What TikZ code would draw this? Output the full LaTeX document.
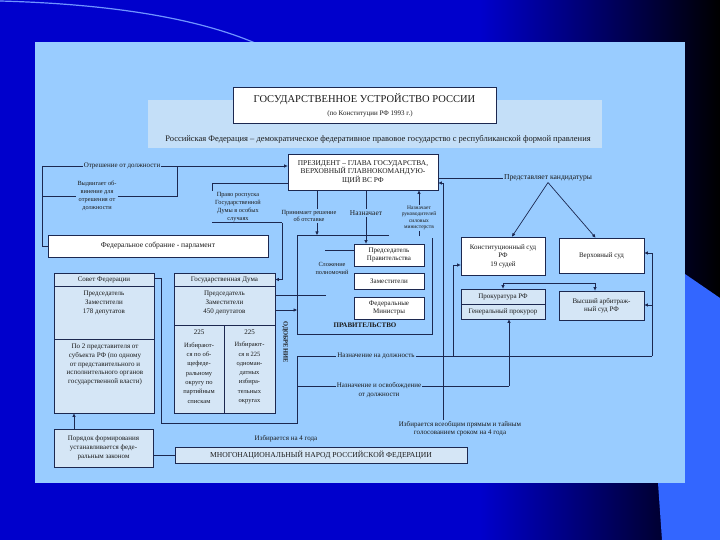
\documentclass[tikz,border=0pt]{standalone}
\usepackage{fontspec}
\setmainfont{Liberation Serif}
\usetikzlibrary{arrows.meta}
\definecolor{panel}{HTML}{99CCFF}
\definecolor{band}{HTML}{C4DFF8}
\definecolor{pale}{HTML}{D5E6F6}
\definecolor{ink}{HTML}{1C2850}
\definecolor{txt}{HTML}{1A1A1A}
\definecolor{bgblue}{HTML}{0000CC}
\definecolor{lightbg}{HTML}{3366FF}
\newcommand\fsz[2]{\fontsize{#1}{#2}\selectfont}
\begin{document}
\begin{tikzpicture}[x=1pt,y=-1pt,
  ln/.style={draw=ink,line width=0.7pt},
  arr/.style={draw=ink,line width=0.7pt,-{Triangle[length=3.5pt,width=3pt]}},
  wbox/.style={draw=ink,line width=0.8pt,fill=white,inner sep=0pt,align=center,text=txt,font=\fsz{7}{8.5}},
  pbox/.style={wbox,fill=pale},
  lbl/.style={inner sep=1pt,align=center,text=txt,font=\fsz{7}{8.5}},
  small/.style={lbl,font=\fsz{6.3}{7.8}}]
\useasboundingbox (0,0) rectangle (720,540);
% background
\fill[bgblue] (0,0) rectangle (720,540);
\shade[left color=bgblue,right color=black] (480,0) rectangle (720,540);
\fill[lightbg] (685,274) -- (720,298) -- (720,540) -- (662,540) -- (658,483) -- (685,483) -- cycle;
\draw[lightbg!70!white,line width=1.2pt] (0,1) .. controls (110,4) and (200,18) .. (262,46);
\fill[panel] (35,42) rectangle (685,483);
\fill[band] (148,100) rectangle (602,148);
% title
\node[wbox,minimum width=263pt,minimum height=36pt] (title) at (364.5,105) {};
\node[lbl,font=\fsz{10.5}{12}] (t1) at (364.5,99) {ГОСУДАРСТВЕННОЕ УСТРОЙСТВО РОССИИ};
\node[lbl] (t2) at (370,113.5) {(по Конституции РФ 1993 г.)};
\node[lbl,font=\fsz{8.5}{10}] (rf) at (378,139) {Российская Федерация – демократическое федеративное правовое государство с республиканской формой правления};
% president
\node[wbox,minimum width=150pt,minimum height=36pt,font=\fsz{7.4}{8.6}] (pres) at (363,172) {ПРЕЗИДЕНТ – ГЛАВА ГОСУДАРСТВА,\\ВЕРХОВНЫЙ ГЛАВНОКОМАНДУЮ-\\ЩИЙ ВС РФ};
% left top
\node[lbl] (otr) at (122,166) {Отрешение от должности};
\node[small] (vyd) at (97,196) {Выдвигает об-\\винение для\\отрешения от\\должности};
\node[small] (rosp) at (238,207) {Право роспуска\\Государственной\\Думы в особых\\случаях};
\node[wbox,minimum width=220pt,minimum height=22pt,font=\fsz{7.6}{9}] (fs) at (158,246) {Федеральное собрание - парламент};
% council
\node[pbox,minimum width=100pt,minimum height=140pt] (sf) at (104,343) {};
\draw[ln] (54,286) -- (154,286) (54,339) -- (154,339);
\node[lbl] (sfh) at (104,279.5) {Совет Федерации};
\node[lbl,font=\fsz{7}{9}] (sfm) at (104,303) {Председатель\\Заместители\\178 депутатов};
\node[lbl,font=\fsz{7}{8.8}] (sfs) at (105,364.5) {По 2 представителя от\\субъекта РФ (по одному\\от представительного и\\исполнительного органов\\государственной власти)};
% duma
\node[pbox,minimum width=101pt,minimum height=140pt] (gd) at (224.5,343) {};
\draw[ln] (174,286) -- (275,286) (174,325) -- (275,325) (224,325) -- (224,413);
\node[lbl] (gdh) at (224.5,279.5) {Государственная Дума};
\node[lbl,font=\fsz{7}{9}] (gdm) at (224.5,303) {Председатель\\Заместители\\450 депутатов};
\node[lbl] (n1) at (199,332) {225};
\node[lbl] (n2) at (249.5,332) {225};
\node[lbl,font=\fsz{6.5}{9.3}] (c1) at (199,373) {Избирают-\\ся по об-\\щефеде-\\ральному\\округу по\\партийным\\спискам};
\node[lbl,font=\fsz{6.5}{9.3}] (c2) at (249.5,373) {Избирают-\\ся в 225\\одноман-\\датных\\избира-\\тельных\\округах};
\node[lbl,font=\bfseries\fsz{6.5}{7},rotate=-90] (odo) at (285,342) {ОДОБРЕНИЕ};
% government
\node[wbox,minimum width=70pt,minimum height=22pt] (pred) at (389,255) {Председатель\\Правительства};
\node[wbox,minimum width=70pt,minimum height=16pt] (zam) at (389,281) {Заместители};
\node[wbox,minimum width=70pt,minimum height=22pt] (mins) at (389,308) {Федеральные\\Министры};
\node[lbl,font=\bfseries\fsz{7}{8}] (prav) at (365,325.5) {ПРАВИТЕЛЬСТВО};
\node[small] (otst) at (309,216) {Принимает решение\\об отставке};
\node[lbl,font=\fsz{7.4}{8.5}] (nazn) at (366,213) {Назначает};
\node[small,font=\fsz{5.5}{6.5}] (ruk) at (419,218) {Назначает\\руководителей\\силовых\\министерств};
\node[small] (slo) at (332,268.5) {Сложение\\полномочий};
% courts
\node[lbl,font=\fsz{7.6}{9}] (kand) at (548,178) {Представляет кандидатуры};
\node[wbox,minimum width=84pt,minimum height=38pt] (ks) at (503,256) {Конституционный суд\\РФ\\19 судей};
\node[wbox,minimum width=85pt,minimum height=35pt] (vs) at (601.5,255.5) {Верховный суд};
\node[pbox,minimum width=84pt,minimum height=30pt] (prok) at (503,304) {};
\draw[ln] (461,304) -- (545,304);
\node[lbl] (prk1) at (503,297) {Прокуратура РФ};
\node[lbl] (prk2) at (503,311.5) {Генеральный прокурор};
\node[pbox,minimum width=85pt,minimum height=29pt] (vas) at (601.5,305.5) {Высший арбитраж-\\ный суд РФ};
% functions
\node[lbl] (nzd) at (376,356) {Назначение на должность};
\node[lbl] (nod) at (379,390) {Назначение и освобождение\\от должности};
\node[lbl] (izb) at (460,428.5) {Избирается всеобщим прямым и тайным\\голосованием сроком на 4 года};
% bottom
\node[pbox,minimum width=99pt,minimum height=38pt,font=\fsz{7}{9}] (por) at (103.5,448) {Порядок формирования\\устанавливается феде-\\ральным законом};
\node[lbl] (izb4) at (286,439) {Избирается на 4 года};
\node[pbox,minimum width=292pt,minimum height=16pt,font=\fsz{7.6}{8}] (nar) at (321,455) {МНОГОНАЦИОНАЛЬНЫЙ НАРОД РОССИЙСКОЙ ФЕДЕРАЦИИ};
% coordinates
\coordinate (lt) at (42,166);
\coordinate (vj) at (177,166);
\coordinate (rc) at (212,183);
\coordinate (rb) at (282,224);
\coordinate (g1) at (389,235);
\coordinate (g2) at (297,235);
\coordinate (g3) at (297,334);
\coordinate (g4) at (432,334);
\coordinate (g5) at (432,238);
\coordinate (a1) at (317,235);
\coordinate (rk) at (419,236);
\coordinate (s1) at (325,250);
\coordinate (d1) at (326,295);
\coordinate (d2) at (297,310);
\coordinate (f1) at (161,278);
\coordinate (f2) at (161,423);
\coordinate (f3) at (297,423);
\coordinate (f4) at (297,356);
\coordinate (f5) at (297,386);
\coordinate (r1) at (652,356);
\coordinate (r2) at (652,253);
\coordinate (r3) at (652,305);
\coordinate (k1) at (453,356);
\coordinate (k2) at (453,265);
\coordinate (p1) at (509,386);
\coordinate (h1) at (503,283);
\coordinate (h2) at (595,283);
\coordinate (e1) at (443,183);
% connectors
\draw[ln] (lt) -- (otr.west);
\draw[arr] (otr.east) -- (pres.west |- otr.east);
\draw[ln] (lt) |- (fs.west);
\draw[ln] (lt |- vyd.west) -- (vyd.west);
\draw[ln] (vyd.east) -| (vj);
\draw[ln] (pres.west |- rc) -- (rc) -- (rc |- rosp.north);
\draw[ln] (rosp.south -| rc) -- (rb |- rosp.south);
\draw[arr] (rb |- rosp.south) |- (gd.east |- gdh);
\draw[ln] (g1) -- (g2) -- (g3) -- (g4) -- (g5);
\draw[ln] (pres.south -| a1) -- (otst.north -| a1);
\draw[arr] (otst.south -| a1) -- (a1);
\draw[ln] (pres.south -| nazn) -- (nazn.north);
\draw[arr] (nazn.south) -- (nazn.south |- pred.north);
\draw[ln] (rk) -- (ruk.south);
\draw[arr] (ruk.north) -- (ruk.north |- pres.south);
\draw[ln] (s1) -- (s1 -| pred.west);
\draw[ln] (gd.east |- d1) -- (d1);
\draw[arr] (gd.east |- d2) -- (d2);
\draw[ln] (sf.east |- f1) -- (f1) -- (f2) -- (f3) -- (f4) -- (nzd.west);
\draw[ln] (f5) -- (nod.west |- f5);
\draw[ln] (nzd.east) -- (r1);
\draw[arr] (r1) -- (r2) -- (vs.east |- r2);
\draw[arr] (r3) -- (vas.east |- r3);
\draw[arr] (k1) -- (k2) -- (ks.west |- k2);
\draw[ln] (nod.east |- p1) -- (p1);
\draw[arr] (p1) -- (p1 |- prok.south);
\draw[ln] (h1) -- (h2);
\draw[arr] (h1) -- (h1 |- prok.north);
\draw[arr] (h2) -- (h2 |- vas.north);
\draw[ln] (pres.east |- kand) -- (kand.west);
\draw[arr] (kand.south) -- ([xshift=9pt]ks.north);
\draw[arr] (kand.south) -- ([xshift=-6pt]vs.north);
\draw[arr] (izb.north -| e1) -- (e1) -- (pres.east |- e1);
\draw[arr] ([xshift=-29.5pt]por.north) -- ([xshift=-30pt]sf.south);
\draw[ln] (por.east |- nar) -- (nar.west);
\end{tikzpicture}
\end{document}
